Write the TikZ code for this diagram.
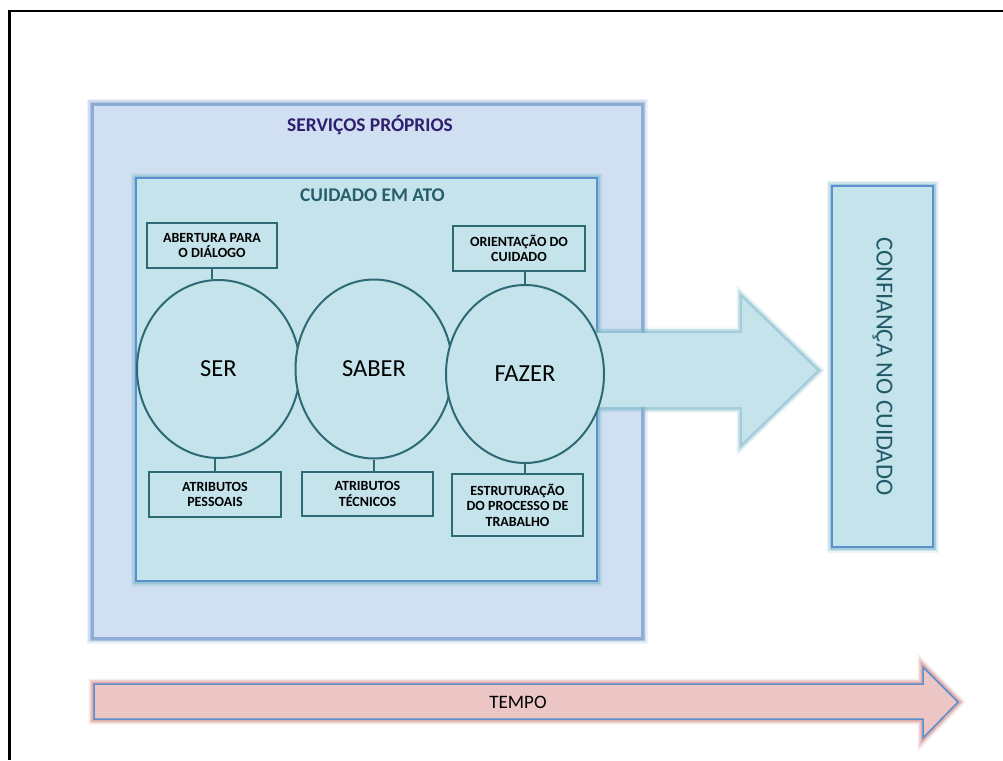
\documentclass[tikz,border=0pt]{standalone}
\usepackage{fontspec}
\setmainfont{Carlito}
\usetikzlibrary{shapes.geometric}

\definecolor{outerfill}{RGB}{208,224,242}
\definecolor{outerglow}{RGB}{140,172,214}
\definecolor{innerfill}{RGB}{196,227,235}
\definecolor{innerline}{RGB}{91,143,205}
\definecolor{tealglow}{RGB}{125,184,202}
\definecolor{darkteal}{RGB}{46,106,118}
\definecolor{titleblue}{RGB}{48,30,110}
\definecolor{titleteal}{RGB}{38,94,107}
\definecolor{sidetext}{RGB}{33,89,104}
\definecolor{timefill}{RGB}{236,198,197}
\definecolor{timeglow}{RGB}{210,140,138}

\tikzset{
  glow/.style={
    preaction={draw=#1, line width=11pt, draw opacity=0.15},
    preaction={draw=#1, line width=8pt, draw opacity=0.28},
    preaction={draw=#1, line width=5pt, draw opacity=0.5}},
  outerbox/.style={rectangle, glow=outerglow, fill=outerfill,
    draw=outerglow, line width=3pt, inner sep=0pt},
  innerbox/.style={rectangle, glow=tealglow, fill=innerfill,
    draw=innerline, line width=1.6pt, inner sep=0pt},
  circlebox/.style={ellipse, fill=innerfill, draw=darkteal,
    line width=2pt, inner sep=0pt, font=\fontsize{24.5}{29}\selectfont},
  smallbox/.style={rectangle, fill=innerfill, draw=darkteal,
    line width=2.4pt, inner sep=0pt, align=center,
    font=\bfseries\fontsize{14}{15.6}\selectfont},
  conn/.style={draw=darkteal, line width=2.5pt},
  boxtitle/.style={font=\bfseries\fontsize{19.4}{23}\selectfont, inner sep=0pt},
}

\begin{document}
\begin{tikzpicture}[x=1pt, y=-1pt]
\useasboundingbox (0,0) rectangle (1003,760);
\fill[white] (0,0) rectangle (1003,760);

% page frame (top and left edges)
\draw[line width=2.5pt] (1003,11) -- (9.5,11) -- (9.5,760);

% outer container
\node[outerbox, minimum width=550pt, minimum height=534pt] (servicos) at (367,371) {};
\node[boxtitle, text=titleblue] (servicostitle) at (370,125) {SERVIÇOS PRÓPRIOS};

% inner container
\node[innerbox, minimum width=461pt, minimum height=403pt] (cuidado) at (366.5,379.5) {};
\node[boxtitle, text=titleteal] (cuidadotitle) at (372.5,195) {CUIDADO EM ATO};

% large arrow towards the result box
\path[glow=tealglow, fill=innerfill]
  (585,333) -- (742,333) -- (742,298) -- (817,370.5) -- (742,443)
  -- (742,407) -- (585,407) -- cycle;

% result box
\node[innerbox, rotate=-90, minimum width=361pt, minimum height=101pt,
      text=sidetext, font=\fontsize{24.5}{29}\selectfont]
  (confianca) at (882.5,366.5) {\raisebox{4pt}{CONFIANÇA NO CUIDADO}};

% the three dimensions
\node[circlebox, minimum width=163pt, minimum height=178pt] (ser) at (218.5,369) {SER};
\node[circlebox, minimum width=157pt, minimum height=179pt] (saber) at (374,369) {SABER};
\node[circlebox, minimum width=158pt, minimum height=178pt] (fazer) at (525,374) {FAZER};

% attribute boxes
\node[smallbox, minimum width=130pt, minimum height=45pt] (abertura) at (212,245.5)
  {ABERTURA PARA\\O DIÁLOGO};
\node[smallbox, minimum width=132pt, minimum height=45pt] (orientacao) at (519,248.5)
  {ORIENTAÇÃO DO\\CUIDADO};
\node[smallbox, minimum width=132pt, minimum height=45pt] (pessoais) at (215,494.5)
  {ATRIBUTOS\\PESSOAIS};
\node[smallbox, minimum width=131pt, minimum height=44pt] (tecnicos) at (367.5,494)
  {ATRIBUTOS\\TÉCNICOS};
\node[smallbox, minimum width=131pt, minimum height=62pt] (estrut) at (517.5,505)
  {ESTRUTURAÇÃO\\DO PROCESSO DE\\TRABALHO};

% connectors
\draw[conn] (abertura) -- (abertura |- ser.north);
\draw[conn] (fazer.north) -- (fazer.north |- orientacao.south);
\draw[conn] (pessoais) -- (pessoais |- ser.south);
\draw[conn] (saber.south) -- (saber.south |- tecnicos.north);
\draw[conn] (fazer.south) -- (fazer.south |- estrut.north);

% time arrow
\path[glow=timeglow, fill=timefill, draw=innerline, line width=1.5pt]
  (94,684) -- (923,684) -- (923,667) -- (958,702) -- (923,738)
  -- (923,719) -- (94,719) -- cycle;
\node[font=\fontsize{19}{23}\selectfont, inner sep=0pt] (tempo) at (518,702) {TEMPO};
\end{tikzpicture}
\end{document}
